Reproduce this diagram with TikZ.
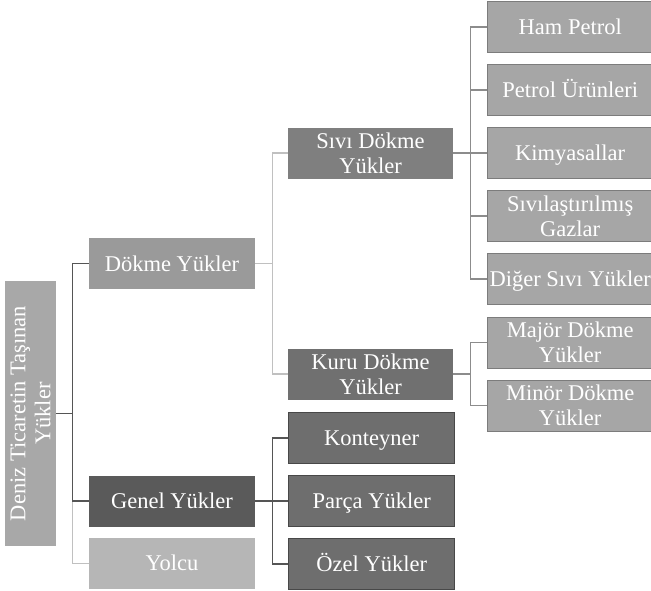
\documentclass[tikz,border=0pt]{standalone}
\usepackage{fontspec}
\setmainfont{Liberation Serif}
\usetikzlibrary{positioning}
\definecolor{rootfill}{HTML}{A8A8A8}
\definecolor{dokmefill}{HTML}{9A9A9A}
\definecolor{genelfill}{HTML}{5A5A5A}
\definecolor{yolcufill}{HTML}{B6B6B6}
\definecolor{sivifill}{HTML}{7F7F7F}
\definecolor{kurufill}{HTML}{707070}
\definecolor{kargofill}{HTML}{6E6E6E}
\definecolor{kargoline}{HTML}{484848}
\definecolor{leaffill}{HTML}{A6A6A6}
\definecolor{leafline}{HTML}{7C7C7C}
\definecolor{lnkdark}{HTML}{555555}
\definecolor{lnklight}{HTML}{C0C0C0}
\definecolor{lnkmid}{HTML}{8C8C8C}

\begin{document}
\begin{tikzpicture}[x=1pt, y=-1pt, node distance=11pt,
    font=\fontsize{22.5}{25}\selectfont,
    box/.style={text=white, inner sep=1pt, text height=15pt, text depth=0pt,
                minimum width=166pt, minimum height=51pt},
    twoline/.style={align=center, text height=, text depth=},
    rootbox/.style={box, twoline, fill=rootfill, rotate=90, minimum width=265pt},
    lvlbox/.style={box, fill=#1},
    kargobox/.style={box, fill=kargofill, draw=kargoline, line width=1pt},
    leafbox/.style={box, fill=leaffill, draw=leafline, line width=1pt, minimum width=165pt},
    linkdark/.style={draw=lnkdark, line width=1.3pt},
    linklight/.style={draw=lnklight, line width=1.3pt},
    linkmid/.style={draw=lnkmid, line width=1.3pt}]
  \useasboundingbox[fill=white] (0,0) rectangle (651,590);

  % first level
  \node[rootbox] (root) at (30.5,413.5) {Deniz Ticaretin Taşınan\\Yükler};
  \node[lvlbox=dokmefill] (dokme) at (172,263.5) {Dökme Yükler};
  \node[lvlbox=genelfill] (genel) at (172,501) {Genel Yükler};
  \node[lvlbox=yolcufill, below=of genel] (yolcu) {Yolcu};

  % dokme yukler
  \node[lvlbox=sivifill, twoline, minimum width=165pt] (sivi) at (370.5,153) {Sıvı Dökme\\Yükler};
  \node[lvlbox=kurufill, twoline, minimum width=165pt] (kuru) at (370.5,374) {Kuru Dökme\\Yükler};

  \node[leafbox, right=34pt of sivi] (kimya) {Kimyasallar};
  \node[leafbox, above=of kimya] (urun) {Petrol Ürünleri};
  \node[leafbox, above=of urun] (ham) {Ham Petrol};
  \node[leafbox, twoline, below=of kimya] (gaz) {Sıvılaştırılmış\\Gazlar};
  \node[leafbox, below=of gaz] (diger) {Diğer Sıvı Yükler};

  \node[leafbox, twoline, right=34pt of kuru, yshift=31.5pt] (major) {Majör Dökme\\Yükler};
  \node[leafbox, twoline, below=of major] (minor) {Minör Dökme\\Yükler};

  % genel yukler
  \node[kargobox, right=33pt of genel] (parca) {Parça Yükler};
  \node[kargobox, above=of parca] (konteyner) {Konteyner};
  \node[kargobox, below=of parca] (ozel) {Özel Yükler};

  % connectors
  \draw[linklight] (root.south) -- ++(16,0) |- (yolcu.west);
  \draw[linkdark] (root.south) -- ++(16,0) |- (dokme.west);
  \draw[linkdark] (root.south) -- ++(16,0) |- (genel.west);
  \foreach \c in {sivi,kuru}
    \draw[linklight] (dokme.east) -- ++(17,0) |- (\c.west);
  \foreach \c in {ham,urun,kimya,gaz,diger}
    \draw[linkmid] (sivi.east) -- ++(17,0) |- (\c.west);
  \foreach \c in {major,minor}
    \draw[linkmid] (kuru.east) -- ++(17,0) |- (\c.west);
  \foreach \c in {konteyner,parca,ozel}
    \draw[linkdark] (genel.east) -- ++(17,0) |- (\c.west);
\end{tikzpicture}
\end{document}
